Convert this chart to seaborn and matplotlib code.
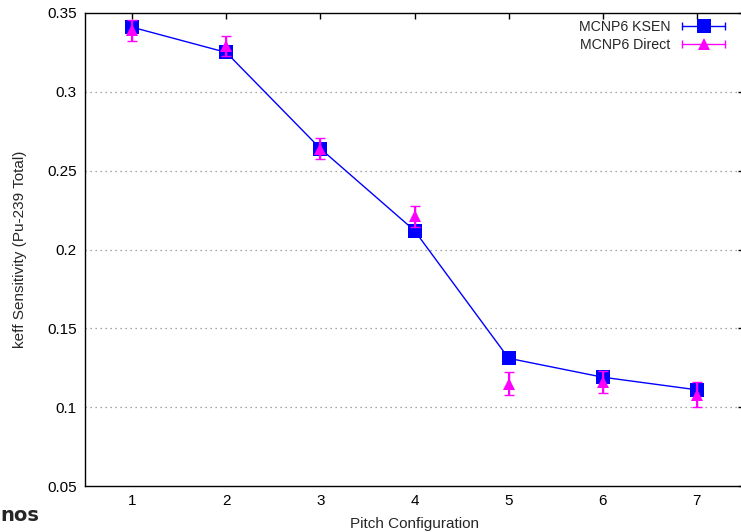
import matplotlib
matplotlib.use("Agg")
import matplotlib.pyplot as plt
from matplotlib.lines import Line2D
from matplotlib.legend_handler import HandlerBase
import seaborn as sns
import pandas as pd

pitch = [1, 2, 3, 4, 5, 6, 7]
ksen = [0.341, 0.325, 0.264, 0.212, 0.131, 0.119, 0.111]
ksen_err = [0.001, 0.001, 0.001, 0.001, 0.001, 0.001, 0.001]
direct = [0.339, 0.329, 0.264, 0.221, 0.115, 0.116, 0.108]
direct_err = [0.0065, 0.0065, 0.0065, 0.0065, 0.0072, 0.0072, 0.0078]

df = pd.DataFrame({"Pitch": pitch, "KSEN": ksen, "Direct": direct})


# gnuplot-style key entry: line with end caps and the marker in the middle
class ErrKey(HandlerBase):
    def create_artists(self, legend, orig_handle, xdescent, ydescent,
                       width, height, fontsize, trans):
        c = orig_handle.get_color()
        y = height / 2 - ydescent
        x0, x1 = -xdescent, width - xdescent
        line = Line2D([x0, x1], [y, y], color=c, lw=1, transform=trans)
        caps = Line2D([x0, x1], [y, y], ls="none", marker="|", ms=6,
                      mew=1, color=c, transform=trans)
        mk = Line2D([(x0 + x1) / 2], [y], ls="none",
                    marker=orig_handle.get_marker(),
                    ms=orig_handle.get_markersize(), mew=0,
                    color=c, transform=trans)
        return [line, caps, mk]


sns.set_style("white")
plt.rcParams["font.family"] = ["Liberation Sans", "DejaVu Sans"]

fig = plt.figure(figsize=(7.41, 5.32), dpi=100)
ax = fig.add_axes([85 / 741, 46 / 532, 659 / 741, 473 / 532])

sns.lineplot(data=df, x="Pitch", y="KSEN", ax=ax, color="#0000ff", lw=1,
             marker="s", markersize=10, markeredgewidth=0, legend=False)
ax.errorbar(pitch, ksen, yerr=ksen_err, color="#0000ff", lw=0,
            elinewidth=1, capsize=3, capthick=1, fmt="none")
ax.errorbar(pitch, direct, yerr=direct_err, color="#ff00ff", fmt="^",
            markersize=9, markeredgewidth=0, zorder=3)
ax.errorbar(pitch, direct, yerr=direct_err, color="#ff00ff", fmt="none",
            elinewidth=1, capsize=3.5, capthick=1, zorder=4)

ax.set_xlim(0.5, 7.5)
ax.set_ylim(0.05, 0.35)
ax.set_xticks(pitch)
ax.set_yticks([0.05, 0.1, 0.15, 0.2, 0.25, 0.3, 0.35])
ax.set_yticklabels(["0.05", "0.1", "0.15", "0.2", "0.25", "0.3", "0.35"])
for y in [0.1, 0.15, 0.2, 0.25, 0.3]:
    ax.axhline(y, color="#888888", lw=0.9, ls=(0, (1, 3)), zorder=0)

ax.tick_params(direction="in", top=True, right=True, length=4.5, width=1,
               labelsize=11, colors="black", pad=6)
for s in ax.spines.values():
    s.set_color("black")
    s.set_linewidth(1)

ax.set_xlabel("Pitch Configuration", fontsize=11)
ax.set_ylabel("keff Sensitivity (Pu-239 Total)", fontsize=11)
ax.xaxis.set_label_coords((414 - 85) / 659, -(517 - 486) / 473)
ax.yaxis.set_label_coords(-(85 - 27) / 659, 0.5)

k1 = Line2D([], [], color="#0000ff", marker="s", markersize=10)
k2 = Line2D([], [], color="#ff00ff", marker="^", markersize=9)
ax.legend(handles=[k1, k2], labels=["MCNP6 KSEN", "MCNP6 Direct"],
          handler_map={Line2D: ErrKey()},
          loc="upper right",
          bbox_to_anchor=((725 - 85) / 659, (486 - 20) / 473),
          frameon=False, markerfirst=False, fontsize=10.2, handlelength=3.0,
          labelspacing=0.25, borderaxespad=0, borderpad=0,
          handletextpad=0.85)

fig.text(0.0, 11 / 532, "nos", fontsize=14, fontweight="bold",
         family="DejaVu Sans", ha="left", va="baseline")

fig.savefig("out.png", dpi=100)
